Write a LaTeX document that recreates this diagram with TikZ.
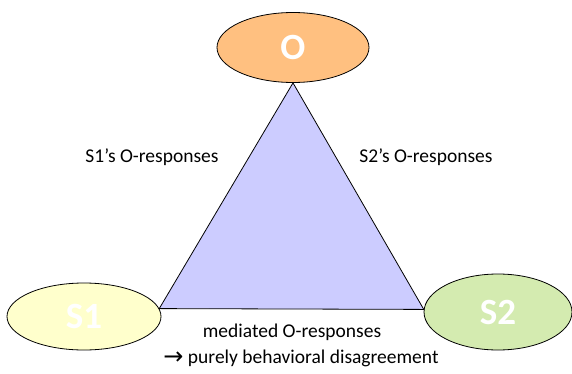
\documentclass[tikz,border=0pt]{standalone}
\usepackage{fontspec}
\setmainfont{Carlito}
\newfontfamily\symfont{DejaVu Sans}
\usetikzlibrary{shapes.geometric}
\definecolor{oorange}{HTML}{FFC080}
\definecolor{syellow}{HTML}{FFFFCC}
\definecolor{sgreen}{HTML}{D4EBB0}
\definecolor{trifill}{HTML}{CCCCFF}
\begin{document}
\begin{tikzpicture}[x=1pt,y=1pt,
    party/.style={ellipse,draw=black,line width=0.8pt,inner sep=0pt,text=white,
      font=\fontsize{37}{40}\selectfont\bfseries},
    lbl/.style={font=\fontsize{19.5}{23}\selectfont,align=center}]
      \useasboundingbox (0,0) rectangle (572,373);
      \node[party,fill=oorange,minimum width=152,minimum height=70] (o) at (293,325.5) {O};
      \node[party,fill=syellow,minimum width=154,minimum height=67] (s1) at (84,56.5) {S1};
      \node[party,fill=sgreen,minimum width=148,minimum height=76] (s2) at (498,61) {S2};
      % triangle between the three
      \draw[fill=trifill,line width=0.8pt,line join=miter] (o.south) -- (s1.6) -- (s2.178) -- cycle;
      \node[lbl] (r1) at (152,216) {S1’s O-responses};
      \node[lbl] (r2) at (426,216) {S2’s O-responses};
      \node[lbl] (med) at (292,41) {mediated O-responses};
      \node[lbl] (dis) at (301,15) {\raisebox{-1pt}{\symfont\fontsize{24}{24}\selectfont →} purely behavioral disagreement};
\end{tikzpicture}
\end{document}
